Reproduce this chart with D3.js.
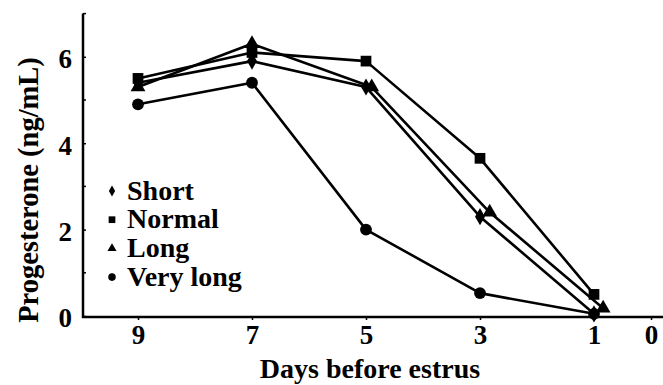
<!DOCTYPE html>
<html lang="en">
<head>
  <meta charset="utf-8">
  <title>Progesterone</title>
  <script src="https://cdn.jsdelivr.net/npm/d3@7"></script>
  <style>
    body { margin: 0; background: #fff; }
    svg text { font-family: "Liberation Serif", "Times New Roman", serif; font-weight: bold; fill: #000; }
  </style>
</head>
<body>
<script>
  // data
  var days = [9, 7, 5, 3, 1];
  var longDays = [9, 7, 4.9, 2.83, 0.84];   // "Long" points are drawn slightly offset
  var shortVals = [5.4, 5.9, 5.3, 2.3, 0.05];
  var normalVals = [5.5, 6.1, 5.9, 3.65, 0.5];
  var longVals = [5.3, 6.3, 5.3, 2.4, 0.18];
  var veryLongVals = [4.9, 5.4, 2.0, 0.53, 0.05];
  var xTicks = [9, 7, 5, 3, 1, 0];
  var yTicks = [0, 2, 4, 6];
  var yMinorTicks = [1, 3, 5, 7];
  var seriesNames = ["Short", "Normal", "Long", "Very long"];

  var width = 663, height = 385;
  var left = 83, bottom = 317;

  var series = [
    { name: "Short", sym: d3.symbolDiamond, size: 85, legSize: 34, x: days, y: shortVals },
    { name: "Normal", sym: d3.symbolSquare, size: 115, legSize: 45, x: days, y: normalVals },
    { name: "Long", sym: d3.symbolTriangle, size: 95, legSize: 36, x: longDays, y: longVals },
    { name: "Very long", sym: d3.symbolCircle, size: 110, legSize: 45, x: days, y: veryLongVals }
  ];

  var x = d3.scaleLinear().domain([9, 0]).range([138, 651]);
  var y = d3.scaleLinear().domain([0, 7]).range([316, 13.6]);

  var svg = d3.select("body").append("svg")
      .attr("width", width).attr("height", height);

  // axes
  var xAxis = svg.append("g")
      .attr("transform", "translate(0," + bottom + ")")
      .call(d3.axisBottom(x).tickValues(xTicks).tickSize(3).tickPadding(5).tickFormat(d3.format("d")));
  xAxis.select(".domain").remove();
  xAxis.selectAll("line").attr("stroke-width", 1.5);
  xAxis.selectAll("text").attr("font-size", 27);

  var yAxis = svg.append("g")
      .attr("transform", "translate(" + left + ",0)")
      .call(d3.axisLeft(y).tickValues(yTicks).tickSize(-3).tickPadding(11).tickFormat(d3.format("d")));
  yAxis.select(".domain").remove();
  yAxis.selectAll("line").attr("stroke-width", 1.5);
  yAxis.selectAll("text").attr("font-size", 27).attr("dy", "0.4em");

  svg.append("g").selectAll("line").data(yMinorTicks).join("line")
      .attr("x1", left).attr("x2", left + 3)
      .attr("y1", d => y(d)).attr("y2", d => y(d))
      .attr("stroke", "#000").attr("stroke-width", 1.5);

  svg.append("line")
      .attr("x1", left).attr("x2", left)
      .attr("y1", y(7)).attr("y2", bottom + 1)
      .attr("stroke", "#000").attr("stroke-width", 2.5);
  svg.append("line")
      .attr("x1", left - 1).attr("x2", width)
      .attr("y1", bottom).attr("y2", bottom)
      .attr("stroke", "#000").attr("stroke-width", 2.5);

  // lines + markers
  var line = d3.line().x(d => x(d[0])).y(d => y(d[1]));
  series.forEach(function (s) {
    var pts = s.x.map((d, i) => [d, s.y[i]]);
    svg.append("path")
        .datum(pts)
        .attr("d", line)
        .attr("fill", "none")
        .attr("stroke", "#000")
        .attr("stroke-width", 2.6)
        .attr("stroke-linejoin", "round");
    svg.append("g").selectAll("path").data(pts).join("path")
        .attr("transform", d => "translate(" + x(d[0]) + "," + y(d[1]) + ")")
        .attr("d", d3.symbol().type(s.sym).size(s.size))
        .attr("fill", "#000");
  });

  // legend
  var leg = svg.append("g").attr("transform", "translate(112,191)");
  var rows = leg.selectAll("g").data(series).join("g")
      .attr("transform", (d, i) => "translate(0," + (i * 28.7) + ")");
  rows.append("path")
      .attr("d", d => d3.symbol().type(d.sym).size(d.legSize)())
      .attr("fill", "#000");
  rows.append("text")
      .attr("x", 15).attr("y", 8.5)
      .attr("font-size", 28)
      .text((d, i) => seriesNames[i]);

  // titles
  svg.append("text")
      .attr("x", 370).attr("y", 378)
      .attr("text-anchor", "middle")
      .attr("font-size", 28)
      .text("Days before estrus");
  svg.append("text")
      .attr("transform", "translate(38,190) rotate(-90)")
      .attr("text-anchor", "middle")
      .attr("font-size", 28.5)
      .text("Progesterone (ng/mL)");
</script>
</body>
</html>
